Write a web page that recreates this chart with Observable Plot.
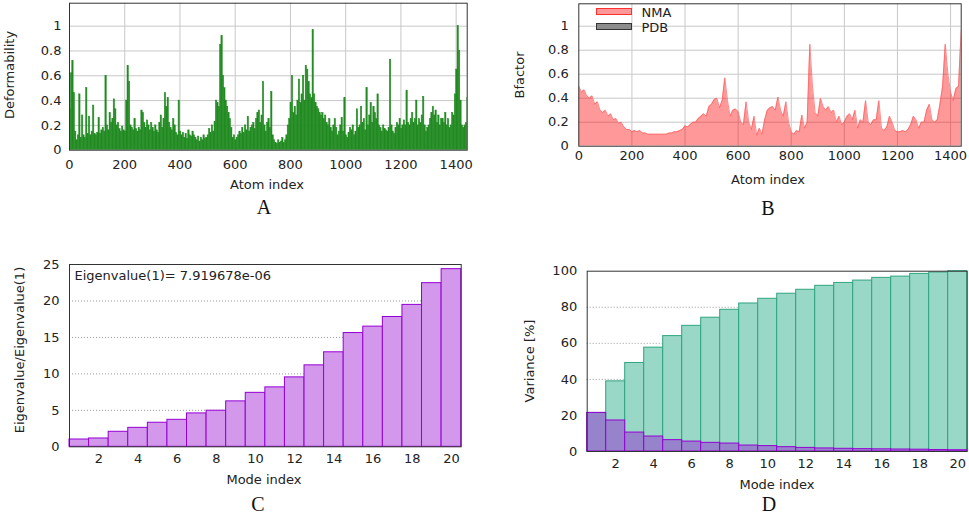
<!DOCTYPE html>
<html><head><meta charset="utf-8">
<script src="https://cdn.jsdelivr.net/npm/d3@7"></script>
<script src="https://cdn.jsdelivr.net/npm/@observablehq/plot@0.6"></script>
<style>
html,body{margin:0;padding:0;background:#fff;}
#root{position:relative;width:969px;height:514px;overflow:hidden;font-family:"DejaVu Sans",sans-serif;color:#222;}
.panel{position:absolute;}
.lbl{position:absolute;font-size:13px;white-space:nowrap;transform:translate(-50%,-50%);line-height:1;}
.ylbl{transform:translate(-50%,-50%) rotate(-90deg);}
.letter{position:absolute;font-family:"Liberation Serif","Times New Roman",serif;font-size:20px;transform:translate(-50%,-50%);line-height:1;color:#111;}
.sw{position:absolute;box-sizing:border-box;}
</style>
</head><body><div id="root"></div>
<script>
// ---------- data ----------
const atomStepA = 5;
const deformability = [
0.33,0.62,0.72,0.46,0.15,0.08,0.12,0.45,0.10,0.28,
0.12,0.10,0.50,0.13,0.27,0.12,0.15,0.36,0.13,0.12,
0.14,0.26,0.13,0.16,0.18,0.15,0.60,0.20,0.16,0.30,
0.22,0.25,0.41,0.33,0.20,0.22,0.17,0.15,0.19,0.16,
0.15,0.40,0.68,0.55,0.20,0.18,0.16,0.25,0.17,0.15,
0.18,0.16,0.32,0.30,0.22,0.18,0.24,0.20,0.16,0.22,
0.18,0.15,0.20,0.16,0.14,0.22,0.28,0.18,0.25,0.46,
0.35,0.42,0.22,0.18,0.16,0.25,0.20,0.14,0.12,0.40,
0.15,0.12,0.14,0.10,0.13,0.09,0.16,0.12,0.11,0.15,
0.12,0.10,0.08,0.11,0.07,0.10,0.08,0.12,0.09,0.10,
0.12,0.17,0.14,0.20,0.15,0.23,0.40,0.38,0.35,0.85,
0.92,0.60,0.50,0.40,0.35,0.30,0.25,0.18,0.10,0.12,
0.08,0.10,0.12,0.15,0.13,0.18,0.14,0.20,0.16,0.27,
0.15,0.18,0.20,0.22,0.17,0.25,0.30,0.32,0.22,0.28,
0.55,0.20,0.15,0.22,0.25,0.18,0.47,0.12,0.08,0.06,
0.05,0.08,0.06,0.07,0.10,0.06,0.08,0.12,0.20,0.25,
0.38,0.60,0.30,0.35,0.28,0.40,0.57,0.38,0.45,0.60,
0.40,0.68,0.65,0.55,0.45,0.42,0.97,0.45,0.38,0.35,
0.33,0.30,0.28,0.30,0.25,0.28,0.22,0.20,0.25,0.18,
0.15,0.20,0.25,0.18,0.12,0.15,0.20,0.26,0.15,0.42,
0.12,0.10,0.14,0.18,0.16,0.20,0.12,0.15,0.33,0.18,
0.20,0.35,0.22,0.25,0.16,0.50,0.20,0.28,0.38,0.22,
0.35,0.30,0.25,0.45,0.20,0.18,0.15,0.20,0.17,0.16,
0.15,0.18,0.73,0.20,0.15,0.13,0.18,0.22,0.20,0.25,
0.17,0.20,0.24,0.20,0.48,0.22,0.20,0.25,0.30,0.22,
0.25,0.40,0.20,0.25,0.22,0.28,0.43,0.20,0.15,0.18,
0.20,0.25,0.30,0.35,0.28,0.32,0.22,0.28,0.20,0.25,
0.25,0.22,0.30,0.20,0.25,0.18,0.20,0.30,0.28,0.45,
0.65,1.00,0.80,0.40,0.20,0.18,0.20,0.22,0.42
];
const atomStepB = 10;
const bfactorNMA = [
0.50,0.45,0.47,0.42,0.40,0.42,0.35,0.37,0.30,0.28,
0.30,0.25,0.27,0.22,0.23,0.19,0.20,0.16,0.14,0.14,
0.12,0.13,0.12,0.13,0.11,0.11,0.10,0.10,0.10,0.10,
0.10,0.10,0.10,0.10,0.11,0.11,0.12,0.12,0.13,0.14,
0.17,0.16,0.18,0.20,0.20,0.23,0.25,0.27,0.25,0.33,
0.35,0.39,0.40,0.32,0.38,0.57,0.38,0.25,0.30,0.31,
0.29,0.20,0.18,0.37,0.20,0.14,0.25,0.09,0.15,0.10,
0.22,0.30,0.32,0.33,0.30,0.41,0.30,0.25,0.37,0.20,
0.12,0.10,0.13,0.12,0.26,0.15,0.20,0.85,0.50,0.28,
0.25,0.40,0.33,0.30,0.33,0.28,0.30,0.20,0.25,0.18,
0.20,0.25,0.27,0.22,0.30,0.15,0.22,0.20,0.38,0.20,
0.18,0.22,0.22,0.38,0.15,0.13,0.16,0.25,0.20,0.13,
0.12,0.12,0.13,0.12,0.14,0.18,0.25,0.22,0.15,0.20,
0.20,0.30,0.35,0.22,0.20,0.22,0.35,0.50,0.85,0.60,
0.45,0.38,0.48,0.50,0.97
];
const atomTicks = [0,200,400,600,800,1000,1200,1400];
const unitTicks = [0,0.2,0.4,0.6,0.8,1];
const legendLabels = ["NMA","PDB"];

const modes = d3.range(1,21);
const eigenRatio = [1.0,1.14,2.06,2.6,3.3,3.7,4.58,4.95,6.23,7.4,8.15,9.52,11.17,12.96,15.6,16.48,17.8,19.46,22.44,24.36];
const eigenTicks = [0,5,10,15,20,25];
const eigenNote = "Eigenvalue(1)= 7.919678e-06";
const varianceCum = [21.4,38.9,49.1,57.6,64.0,69.7,74.2,78.6,82.1,84.7,87.5,89.7,91.9,93.5,94.8,96.3,97.0,98.5,99.3,100];
const varianceInd = [21.4,17.2,10.5,8.3,6.3,5.5,4.8,4.4,3.3,3.0,2.4,2.0,1.7,1.5,1.3,1.2,1.1,1.0,0.8,0.7];
const varTicks = [0,20,40,60,80,100];
const modeTicks = [2,4,6,8,10,12,14,16,18,20];

// ---------- tables ----------
const defData = deformability.map((v,i)=>({a:i*atomStepA, v}));
const bfData = bfactorNMA.map((v,i)=>({a:i*atomStepB, v}));
const eigData = modes.map((m,i)=>({m, v:eigenRatio[i]}));
const varData = modes.map((m,i)=>({m, c:varianceCum[i], v:varianceInd[i]}));

const style = {fontFamily:"DejaVu Sans, sans-serif", fontSize:"13px", color:"#222", background:"transparent", overflow:"visible"};
const fmt = d=>String(d);
const root = document.getElementById("root");
function place(el,left,top){const w=document.createElement("div");w.className="panel";w.style.left=left+"px";w.style.top=top+"px";w.appendChild(el);root.appendChild(w);}
function label(text,x,y,rot,cls){const d=document.createElement("div");d.className=cls||("lbl"+(rot?" ylbl":""));d.textContent=text;d.style.left=x+"px";d.style.top=y+"px";root.appendChild(d);}

// ---------- Panel A ----------
const pA = Plot.plot({
  width:485, height:175, marginLeft:69, marginRight:18.3, marginTop:2.7, marginBottom:25.3,
  style,
  x:{domain:[0,1440]}, y:{domain:[0,1.185]},
  marks:[
    Plot.gridX(atomTicks.slice(1),{stroke:"#c8c8c8",strokeOpacity:1}),
    Plot.gridY(unitTicks.slice(1),{stroke:"#c8c8c8",strokeOpacity:1}),
    Plot.rect(defData,{x1:"a",x2:d=>d.a+atomStepA,y1:0,y2:"v",fill:"#228b22",stroke:"#228b22",strokeWidth:0.5,clip:true}),
    Plot.axisX(atomTicks,{tickSize:0,tickPadding:10,tickFormat:fmt,label:null}),
    Plot.axisY(unitTicks,{tickSize:0,tickPadding:8,tickFormat:fmt,label:null}),
    Plot.frame({stroke:"#333"})
  ]
});
place(pA,0,0);

// ---------- Panel B ----------
const pB = Plot.plot({
  width:484, height:175, marginLeft:93.3, marginRight:8.3, marginTop:3.3, marginBottom:29.3,
  style,
  x:{domain:[0,1440]}, y:{domain:[0,1.187]},
  marks:[
    Plot.gridX(atomTicks.slice(1),{stroke:"#c8c8c8",strokeOpacity:1}),
    Plot.gridY(unitTicks.slice(1),{stroke:"#c8c8c8",strokeOpacity:1}),
    Plot.area(bfData,{x1:"a",y1:0,y2:"v",fill:"#ff0000",fillOpacity:0.4,clip:true}),
    Plot.line(bfData,{x:"a",y:"v",stroke:"#ff5a5a",strokeWidth:0.7,clip:true}),
    Plot.axisX(atomTicks,{tickSize:0,tickPadding:5,tickFormat:fmt,label:null}),
    Plot.axisY(unitTicks,{tickSize:0,tickPadding:10,tickFormat:fmt,label:null}),
    Plot.frame({stroke:"#333"})
  ]
});
place(pB,485,0);

// ---------- Panel C ----------
const pC = Plot.plot({
  width:485, height:226, marginLeft:69, marginRight:24.3, marginTop:14, marginBottom:29.7,
  style,
  x:{domain:[0.5,20.5]}, y:{domain:[0,25]},
  marks:[
    Plot.gridY(eigenTicks.slice(1,-1),{stroke:"#999",strokeOpacity:1,strokeDasharray:"1,2"}),
    Plot.rect(eigData,{x1:d=>d.m-0.5,x2:d=>d.m+0.5,y1:0,y2:"v",fill:"#d398ec",stroke:"#9400d3",strokeWidth:1}),
    Plot.text([eigenNote],{text:d=>d,frameAnchor:"top-left",textAnchor:"start",lineAnchor:"top",dx:5,dy:6,fontSize:13,fill:"#222"}),
    Plot.axisX(modeTicks,{tickSize:0,tickPadding:7,tickFormat:fmt,label:null}),
    Plot.axisY(eigenTicks,{tickSize:0,tickPadding:10,tickFormat:fmt,label:null}),
    Plot.frame({stroke:"#333"})
  ]
});
place(pC,0,250);

// ---------- Panel D ----------
const pD = Plot.plot({
  width:484, height:231, marginLeft:101.7, marginRight:2.3, marginTop:20.7, marginBottom:30,
  style,
  x:{domain:[0.5,20.5]}, y:{domain:[0,100]},
  marks:[
    Plot.gridY(varTicks.slice(1,-1),{stroke:"#999",strokeOpacity:1,strokeDasharray:"1,2"}),
    Plot.rect(varData,{x1:d=>d.m-0.5,x2:d=>d.m+0.5,y1:0,y2:"c",fill:"#99d8c7",stroke:"#2fa57f",strokeWidth:1}),
    Plot.rect(varData,{x1:d=>d.m-0.5,x2:d=>d.m+0.5,y1:0,y2:"v",fill:"#9782cc",stroke:"#9400d3",strokeWidth:1}),
    Plot.axisX(modeTicks,{tickSize:0,tickPadding:7,tickFormat:fmt,label:null}),
    Plot.axisY(varTicks,{tickSize:0,tickPadding:10,tickFormat:fmt,label:null}),
    Plot.frame({stroke:"#333"})
  ]
});
place(pD,485,250);

// ---------- axis titles ----------
label("Deformability",8.5,75,true);
label("Atom index",267,184,false);
label("Bfactor",518.5,75,true);
label("Atom index",768,179,false);
label("Eigenvalue/Eigenvalue(1)",18.5,350,true);
label("Mode index",264,479,false);
label("Variance [%]",528.5,361,true);
label("Mode index",777,483.5,false);

// ---------- panel letters ----------
label("A",264,207,false,"letter");
label("B",768,208,false,"letter");
label("C",258,503.5,false,"letter");
label("D",769,503.5,false,"letter");

// ---------- legend (panel B) ----------
const swColors = [["rgba(255,0,0,0.4)","#ff3030"],["#8c8c8c","#333"]];
legendLabels.forEach((t,i)=>{
  const y = 8.3 + i*14.4;
  const s=document.createElement("div");s.className="sw";
  s.style.left="596px";s.style.top=y+"px";s.style.width="36px";s.style.height="7px";
  s.style.background=swColors[i][0];s.style.border="1px solid "+swColors[i][1];
  root.appendChild(s);
  const d=document.createElement("div");d.className="lbl";d.style.transform="translate(0,-50%)";
  d.textContent=t;d.style.left="641.5px";d.style.top=(y+4)+"px";root.appendChild(d);
});
</script>
</body></html>
